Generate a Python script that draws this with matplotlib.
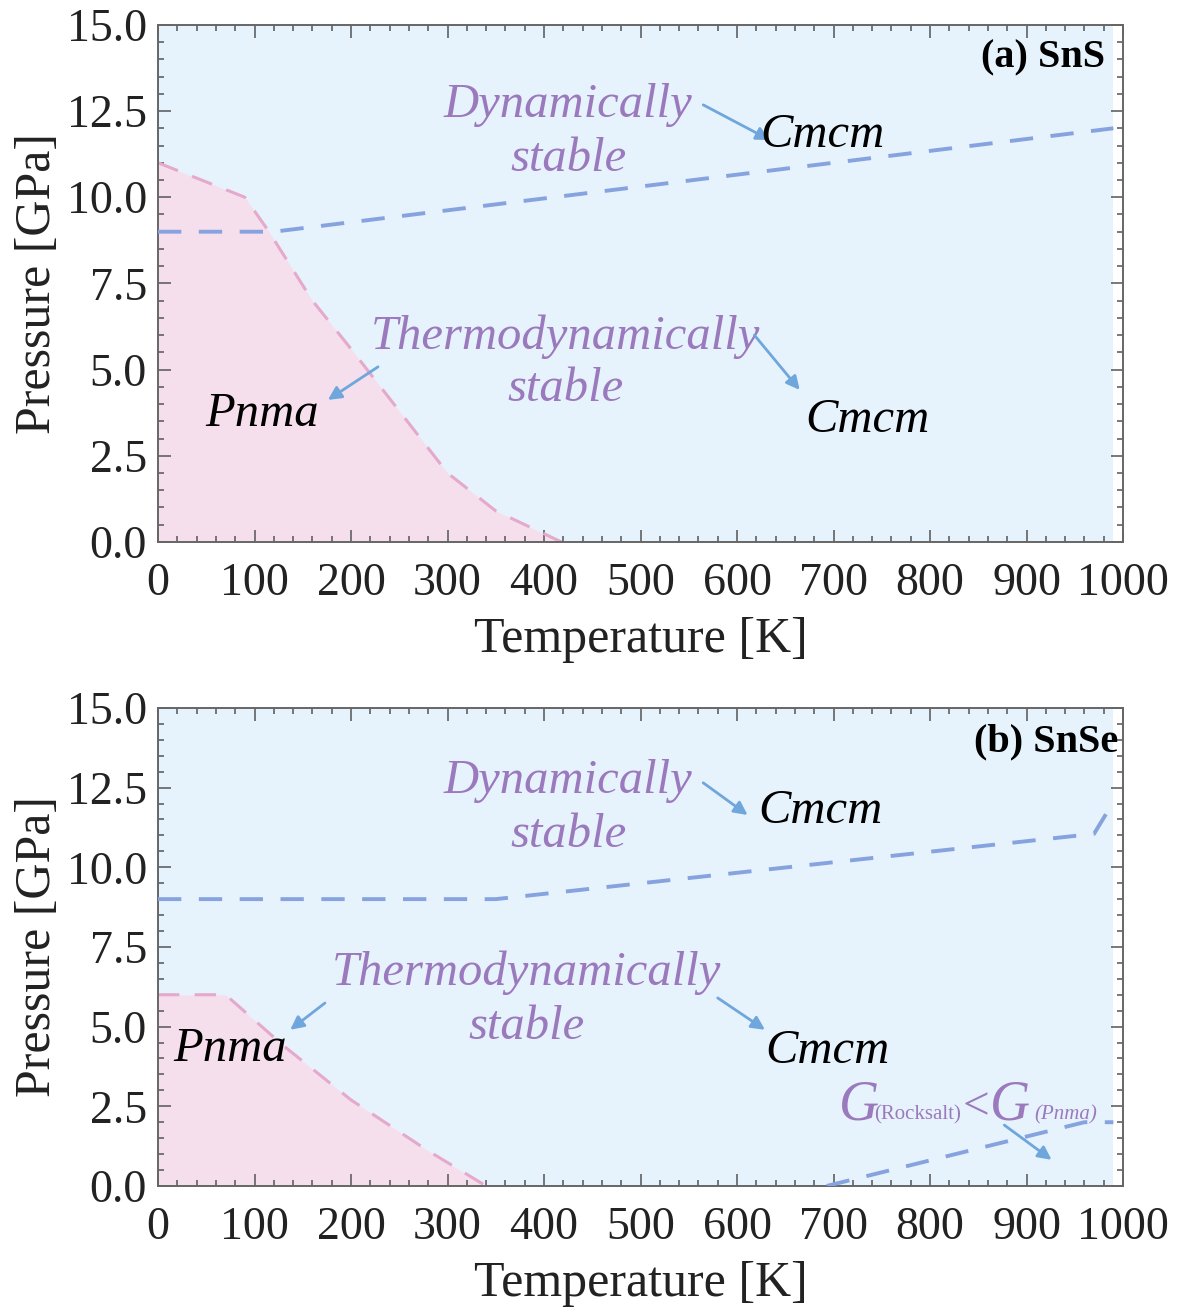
import numpy as np
import matplotlib
matplotlib.use("Agg")
import matplotlib.pyplot as plt
from matplotlib.ticker import MultipleLocator, FormatStrFormatter

plt.rcParams["font.family"] = ["Liberation Serif", "DejaVu Serif"]

# ------------------------------------------
# data
# ------------------------------------------
# (a) SnS: Pnma / Cmcm thermodynamic boundary
sns_T = [0, 90, 115, 160, 200, 250, 300, 350, 418]
sns_P = [11.0, 10.0, 9.0, 7.0, 5.6, 3.8, 2.0, 0.9, 0.0]
# (a) SnS: dynamic stability line
sns_dyn_T = [0, 120, 990]
sns_dyn_P = [9.0, 9.0, 12.0]

# (b) SnSe: Pnma / Cmcm thermodynamic boundary
snse_T = [0, 70, 130, 200, 280, 340]
snse_P = [6.0, 6.0, 4.4, 2.7, 1.1, 0.0]
# (b) SnSe: dynamic stability line
snse_dyn_T = [0, 350, 970, 990]
snse_dyn_P = [9.0, 9.0, 11.05, 12.05]
# (b) SnSe: rocksalt line
snse_rs_T = [693, 960, 990]
snse_rs_P = [0.0, 2.0, 2.0]

x_ticks = list(range(0, 1001, 100))
y_ticks = [0.0, 2.5, 5.0, 7.5, 10.0, 12.5, 15.0]

BLUE_BG = "#e6f3fc"
PINK_BG = "#f6dfec"
PINK_LINE = "#e4a9cb"
BLUE_LINE = "#86a3df"
ARROW = "#6fa6dc"
PURPLE = "#9b79bd"
T_END = 990

fig = plt.figure(figsize=(11.8, 13.1), dpi=100)
ax1 = fig.add_axes([0.1339, 0.5863, 0.8178, 0.3947])
ax2 = fig.add_axes([0.1339, 0.0947, 0.8178, 0.3649])


def style(ax):
    ax.set_xlim(0, 1000)
    ax.set_ylim(0, 15)
    ax.set_xticks(x_ticks)
    ax.set_yticks(y_ticks)
    ax.xaxis.set_minor_locator(MultipleLocator(20))
    ax.yaxis.set_minor_locator(MultipleLocator(0.5))
    ax.yaxis.set_major_formatter(FormatStrFormatter("%.1f"))
    ax.tick_params(which="both", direction="in", top=True, right=True,
                   colors="#555555", labelcolor="#222222", width=1.1)
    ax.tick_params(which="major", length=9, labelsize=33)
    ax.tick_params(axis="x", which="major", pad=15)
    ax.tick_params(axis="y", which="major", pad=8)
    ax.tick_params(which="minor", length=4.5)
    for s in ax.spines.values():
        s.set_color("#666666")
        s.set_linewidth(1.4)
    ax.set_xlabel("Temperature [K]", fontsize=36, color="#222222", labelpad=8)
    ax.set_ylabel("Pressure [GPa]", fontsize=36, color="#222222", labelpad=4)


def phase(ax, T, P, dyn_T, dyn_P):
    ax.fill_between([0, T_END], 0, 15, color=BLUE_BG, lw=0, zorder=0)
    ax.fill_between(T, 0, P, color=PINK_BG, lw=0, zorder=1)
    ax.plot(T, P, color=PINK_LINE, lw=2.2, ls=(0, (7, 5)), zorder=2)
    ax.plot(dyn_T, dyn_P, color=BLUE_LINE, lw=2.8, ls=(0, (6, 4.5)), zorder=3)


def arrow(ax, start, end):
    ax.annotate("", xy=end, xytext=start,
                arrowprops=dict(arrowstyle="-|>", color=ARROW, lw=2,
                                mutation_scale=20, shrinkA=0, shrinkB=0))


label_kw = dict(fontsize=35, style="italic", ha="center", va="center")

# ---- (a) SnS ----
phase(ax1, sns_T, sns_P, sns_dyn_T, sns_dyn_P)
ax1.text(425, 11.9, "Dynamically\nstable", color=PURPLE, linespacing=1.3, **label_kw)
arrow(ax1, (565, 12.68), (634, 11.66))
ax1.text(688, 11.8, "Cmcm", color="black", **label_kw)
ax1.text(422, 5.2, "Thermodynamically\nstable", color=PURPLE, linespacing=1.25, **label_kw)
arrow(ax1, (228, 5.08), (176, 4.12))
ax1.text(108, 3.7, "Pnma", color="black", **label_kw)
arrow(ax1, (618, 6.0), (665, 4.41))
ax1.text(735, 3.55, "Cmcm", color="black", **label_kw)
ax1.text(981, 14.05, "(a) SnS", fontsize=29, fontweight="bold", ha="right", va="center")
style(ax1)

# ---- (b) SnSe ----
phase(ax2, snse_T, snse_P, snse_dyn_T, snse_dyn_P)
ax2.plot(snse_rs_T, snse_rs_P, color=BLUE_LINE, lw=2.8, ls=(0, (6, 4.5)), zorder=3)
ax2.text(425, 11.85, "Dynamically\nstable", color=PURPLE, linespacing=1.3, **label_kw)
arrow(ax2, (565, 12.65), (611, 11.64))
ax2.text(686, 11.75, "Cmcm", color="black", **label_kw)
ax2.text(382, 5.85, "Thermodynamically\nstable", color=PURPLE, linespacing=1.3, **label_kw)
arrow(ax2, (173, 5.74), (137, 4.9))
ax2.text(75, 4.3, "Pnma", color="black", **label_kw)
arrow(ax2, (580, 5.9), (629, 4.9))
ax2.text(694, 4.25, "Cmcm", color="black", **label_kw)
ax2.text(995, 13.93, "(b) SnSe", fontsize=29, fontweight="bold", ha="right", va="center",
         zorder=5, clip_on=False)

# G(Rocksalt) < G(Pnma), built piece by piece on one baseline
g_kw = dict(color=PURPLE, ha="left", va="baseline", zorder=5)
ax2.text(706, 2.1, "G", fontsize=40, style="italic", **g_kw)
ax2.text(742, 2.1, "(Rocksalt)", fontsize=15, **g_kw)
ax2.text(834, 2.1, "<", fontsize=34, **g_kw)
ax2.text(862, 2.1, "G", fontsize=40, style="italic", **g_kw)
ax2.text(908, 2.1, "(Pnma)", fontsize=15, style="italic", **g_kw)
arrow(ax2, (877, 1.91), (926, 0.82))
style(ax2)

fig.savefig("out.png", dpi=100)
